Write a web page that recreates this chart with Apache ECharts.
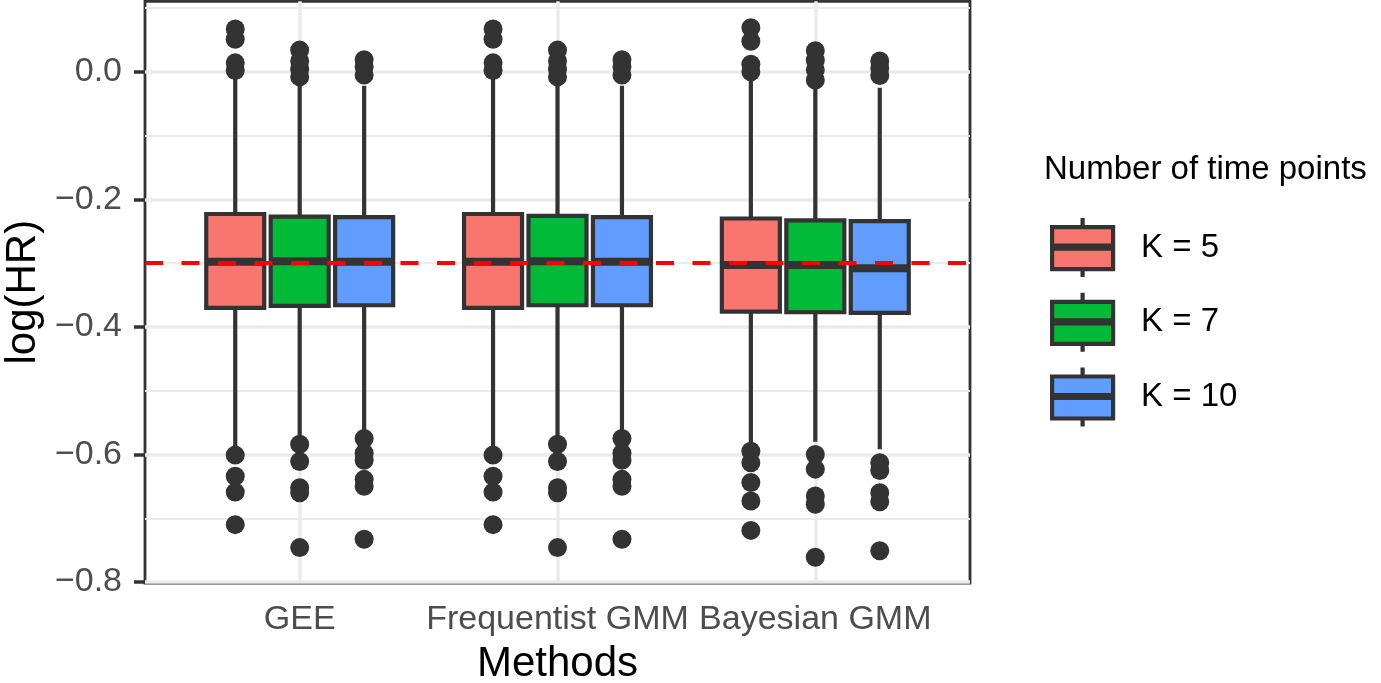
<!DOCTYPE html>
<html>
<head>
<meta charset="utf-8">
<script src="https://cdn.jsdelivr.net/npm/echarts@6/dist/echarts.min.js"></script>
<style>
  html, body { margin: 0; padding: 0; background: #fff; }
  #chart { width: 1381px; height: 683px; }
</style>
</head>
<body>
<div id="chart"></div>
<script>
const methods = ['GEE', 'Frequentist GMM', 'Bayesian GMM'];
const groups = ['K = 5', 'K = 7', 'K = 10'];
const colors = ['#F8766D', '#00BA38', '#619CFF'];

// per method: [lower whisker, Q1, median, Q3, upper whisker]
const boxK5 = [
  [-0.588, -0.370, -0.298, -0.223, -0.005],
  [-0.588, -0.370, -0.298, -0.223, -0.005],
  [-0.590, -0.376, -0.303, -0.230, -0.012]
];
const boxK7 = [
  [-0.575, -0.367, -0.297, -0.227, -0.018],
  [-0.575, -0.366, -0.297, -0.226, -0.018],
  [-0.580, -0.377, -0.303, -0.233, -0.025]
];
const boxK10 = [
  [-0.565, -0.366, -0.298, -0.228, -0.022],
  [-0.565, -0.366, -0.298, -0.228, -0.022],
  [-0.592, -0.378, -0.308, -0.234, -0.025]
];

// outlying points per method
const outK5 = [
  [0.067, 0.051, 0.014, 0.002, -0.601, -0.634, -0.659, -0.710],
  [0.067, 0.051, 0.014, 0.002, -0.601, -0.634, -0.659, -0.710],
  [0.069, 0.048, 0.012, 0.000, -0.595, -0.613, -0.644, -0.673, -0.719]
];
const outK7 = [
  [0.034, 0.017, 0.004, -0.008, -0.584, -0.611, -0.652, -0.660, -0.746],
  [0.034, 0.017, 0.004, -0.008, -0.584, -0.611, -0.652, -0.660, -0.746],
  [0.033, 0.018, 0.003, -0.013, -0.600, -0.623, -0.665, -0.678, -0.761]
];
const outK10 = [
  [0.019, 0.008, -0.005, -0.575, -0.598, -0.609, -0.639, -0.650, -0.733],
  [0.019, 0.008, -0.005, -0.575, -0.598, -0.609, -0.639, -0.650, -0.733],
  [0.017, 0.006, -0.006, -0.613, -0.625, -0.660, -0.674, -0.751]
];

const yTicks = [-0.8, -0.6, -0.4, -0.2, 0];
const yMinor = [-0.7, -0.5, -0.3, -0.1, 0.1];
const xTicks = [1, 2, 3];
const refLine = -0.3;

const boxes = [boxK5, boxK7, boxK10];
const outs = [outK5, outK7, outK10];
const dodge = [-0.25, 0, 0.25];
const boxWidth = 0.225;
const dark = '#333333';
const font = 'Liberation Sans, Arial, sans-serif';
const lw = 4.2;

const chart = echarts.init(document.getElementById('chart'));

function renderBox(offset) {
  return function (params, api) {
    const x = api.value(0) + offset;
    const lo = api.coord([x, api.value(1)]);
    const q1 = api.coord([x, api.value(2)]);
    const md = api.coord([x, api.value(3)]);
    const q3 = api.coord([x, api.value(4)]);
    const hi = api.coord([x, api.value(5)]);
    const half = api.size([boxWidth, 0])[0] / 2;
    const fill = api.visual('color');
    return {
      type: 'group',
      children: [
        { type: 'line', shape: { x1: lo[0], y1: lo[1], x2: q1[0], y2: q1[1] }, style: { stroke: dark, lineWidth: lw } },
        { type: 'line', shape: { x1: q3[0], y1: q3[1], x2: hi[0], y2: hi[1] }, style: { stroke: dark, lineWidth: lw } },
        { type: 'rect', shape: { x: q3[0] - half, y: q3[1], width: half * 2, height: q1[1] - q3[1] },
          style: { fill: fill, stroke: dark, lineWidth: lw } },
        { type: 'line', shape: { x1: md[0] - half, y1: md[1], x2: md[0] + half, y2: md[1] }, style: { stroke: dark, lineWidth: 8 } }
      ]
    };
  };
}

const series = [];

// background grid lines
series.push({
  type: 'scatter',
  name: 'gridlines',
  data: [],
  silent: true,
  markLine: {
    z: 1,
    silent: true,
    symbol: 'none',
    label: { show: false },
    emphasis: { disabled: true },
    lineStyle: { color: '#EBEBEB', type: 'solid' },
    data: [
      ...yMinor.map(v => ({ yAxis: v, lineStyle: { width: 1.8, color: '#EBEBEB', type: 'solid' } })),
      ...yTicks.map(v => ({ yAxis: v, lineStyle: { width: 3.5, color: '#EBEBEB', type: 'solid' } })),
      ...xTicks.map(v => ({ xAxis: v, lineStyle: { width: 3.5, color: '#EBEBEB', type: 'solid' } }))
    ]
  }
});

groups.forEach((g, k) => {
  series.push({
    type: 'custom',
    name: g,
    z: 3,
    itemStyle: { color: colors[k] },
    renderItem: renderBox(dodge[k]),
    encode: { x: 0, y: [1, 2, 3, 4, 5] },
    data: boxes[k].map((b, i) => [i + 1].concat(b))
  });
});

groups.forEach((g, k) => {
  const pts = [];
  outs[k].forEach((vals, i) => vals.forEach(v => pts.push([i + 1 + dodge[k], v])));
  series.push({
    type: 'scatter',
    name: 'outliers ' + g,
    z: 4,
    symbolSize: 19,
    itemStyle: { color: dark, opacity: 1 },
    data: pts
  });
});

// reference line
series.push({
  type: 'scatter',
  name: 'reference',
  data: [],
  markLine: {
    z: 10,
    silent: true,
    symbol: 'none',
    label: { show: false },
    emphasis: { disabled: true },
    lineStyle: { color: '#FF0000', width: 4, type: [18, 18.5] },
    data: [{ yAxis: refLine }]
  }
});

const option = {
  backgroundColor: '#ffffff',
  animation: false,
  textStyle: { fontFamily: font },
  title: {
    text: 'Number of time points',
    left: 1044,
    top: 153,
    padding: 0,
    textStyle: { fontFamily: font, fontSize: 33, fontWeight: 'normal', color: '#000' }
  },
  legend: {
    data: groups,
    orient: 'vertical',
    left: 1050,
    top: 216,
    padding: 0,
    itemWidth: 61,
    itemHeight: 59,
    itemGap: 11.5,
    selectedMode: false,
    icon: 'path://M30.5,0L30.5,9M0,9L61,9L61,51L0,51ZM0,27.5L61,27.5L61,30.5L0,30.5ZM30.5,51L30.5,59',
    itemStyle: { borderColor: dark, borderWidth: lw },
    textStyle: { fontFamily: font, fontSize: 33, color: '#000', padding: [0, 0, 0, 23] }
  },
  grid: {
    left: 145,
    right: 411,
    top: 1.3,
    bottom: 100,
    show: true,
    borderColor: dark,
    borderWidth: 2.8,
    backgroundColor: 'transparent',
    containLabel: false,
    outerBoundsMode: 'none'
  },
  xAxis: {
    type: 'value',
    min: 0.4,
    max: 3.6,
    name: 'Methods',
    nameLocation: 'middle',
    nameGap: 60,
    nameTextStyle: { fontFamily: font, fontSize: 42, color: '#000' },
    axisLine: { show: false },
    splitLine: { show: false },
    axisTick: { show: true, length: 11, customValues: xTicks, lineStyle: { color: dark, width: 3.5 } },
    axisLabel: {
      customValues: xTicks,
      margin: 20,
      fontFamily: font,
      fontSize: 34,
      color: '#4D4D4D',
      formatter: v => methods[Math.round(v) - 1]
    }
  },
  yAxis: {
    type: 'value',
    min: -0.8015,
    max: 0.1105,
    name: 'log(HR)',
    nameLocation: 'middle',
    nameGap: 100,
    nameTextStyle: { fontFamily: font, fontSize: 42, color: '#000' },
    axisLine: { show: false },
    splitLine: { show: false },
    axisTick: { show: true, length: 11, customValues: yTicks, lineStyle: { color: dark, width: 3.5 } },
    axisLabel: {
      customValues: yTicks,
      margin: 23,
      fontFamily: font,
      fontSize: 34,
      color: '#4D4D4D',
      formatter: v => (v < 0 ? '\u2212' : '') + Math.abs(v).toFixed(1)
    }
  },
  series: series
};

chart.setOption(option);
window.addEventListener('resize', () => chart.resize());
</script>
</body>
</html>
